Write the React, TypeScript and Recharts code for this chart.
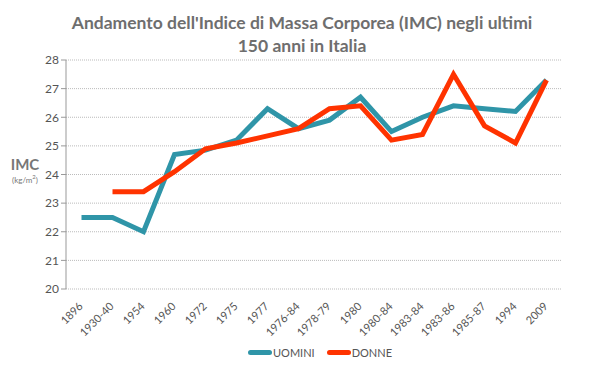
import { LineChart, Line, XAxis, YAxis, CartesianGrid } from 'recharts';

const periods = [
  '1896', '1930-40', '1954', '1960', '1972', '1975', '1977', '1976-84',
  '1978-79', '1980', '1980-84', '1983-84', '1983-86', '1985-87', '1994', '2009',
];
const uomini = [22.5, 22.5, 22.0, 24.7, 24.85, 25.2, 26.3, 25.6, 25.9, 26.7, 25.5, 26.0, 26.4, 26.3, 26.2, 27.3];
const donne = [null, 23.4, 23.4, 24.1, 24.9, 25.1, 25.35, 25.6, 26.3, 26.4, 25.2, 25.4, 27.5, 25.7, 25.1, 27.3];
const yTicks = [20, 21, 22, 23, 24, 25, 26, 27, 28];
const bandTicks = Array.from({ length: periods.length + 1 }, (_, i) => i);

const TEAL = '#2f95a8';
const RED = '#ff3300';
const FONT = 'Lato, "Open Sans", sans-serif';

const data = periods.map((p, i) => ({ period: p, uomini: uomini[i], donne: donne[i] }));

function PeriodTick({ x, y, payload }: any) {
  return (
    <text
      x={x + 2}
      y={y + 10}
      transform={`rotate(-45, ${x + 2}, ${y + 10})`}
      textAnchor="end"
      fontSize={11}
      fill="#555"
      fontFamily={FONT}
    >
      {payload.value}
    </text>
  );
}

function LegendItem({ color, label }: { color: string; label: string }) {
  return (
    <div style={{ display: 'flex', alignItems: 'center', marginRight: 12 }}>
      <div style={{ width: 24, height: 5, borderRadius: 3, background: color }} />
      <span style={{ fontSize: 11, color: '#555', marginLeft: 1 }}>{label}</span>
    </div>
  );
}

export default function App() {
  return (
    <div
      style={{
        position: 'absolute',
        left: 0,
        top: 0,
        width: 604,
        height: 369,
        background: '#fff',
        fontFamily: FONT,
      }}
    >
      <div
        style={{
          position: 'absolute',
          left: 0,
          top: 11,
          width: 604,
          textAlign: 'center',
          color: '#6e6e6e',
          fontSize: 17.5,
          fontWeight: 700,
          lineHeight: '23px',
        }}
      >
        Andamento dell'Indice di Massa Corporea (IMC) negli ultimi
        <br />
        150 anni in Italia
      </div>

      <div style={{ position: 'absolute', left: 8, top: 156, width: 34, textAlign: 'center', color: '#777' }}>
        <div style={{ fontSize: 15, fontWeight: 700, lineHeight: '16px' }}>IMC</div>
        <div style={{ fontSize: 8, lineHeight: '10px' }}>
          (kg/m<sup style={{ fontSize: 6 }}>2</sup>)
        </div>
      </div>

      <LineChart
        width={604}
        height={369}
        data={data}
        margin={{ top: 60, right: 42, left: 36, bottom: 20 }}
      >
        <CartesianGrid vertical={false} stroke="#bbb" strokeDasharray="1 1" />
        <XAxis
          xAxisId="bands"
          type="number"
          domain={[0, periods.length]}
          ticks={bandTicks}
          tick={() => <g />}
          tickSize={4}
          height={0}
          stroke="#999"
          allowDataOverflow
        />
        <XAxis
          dataKey="period"
          interval={0}
          padding={{ left: 15.5, right: 15.5 }}
          axisLine={false}
          tickLine={false}
          tick={<PeriodTick />}
          height={60}
        />
        <YAxis
          domain={[20, 28]}
          ticks={yTicks}
          width={30}
          tickSize={5}
          stroke="#999"
          tick={{ fill: '#555', fontSize: 12, fontFamily: FONT }}
        />
        <Line
          dataKey="uomini"
          stroke={TEAL}
          strokeWidth={5}
          dot={false}
          isAnimationActive={false}
        />
        <Line
          dataKey="donne"
          stroke={RED}
          strokeWidth={5}
          dot={false}
          isAnimationActive={false}
        />
      </LineChart>

      <div style={{ position: 'absolute', left: 248, top: 346, display: 'flex' }}>
        <LegendItem color={TEAL} label="UOMINI" />
        <LegendItem color={RED} label="DONNE" />
      </div>
    </div>
  );
}
